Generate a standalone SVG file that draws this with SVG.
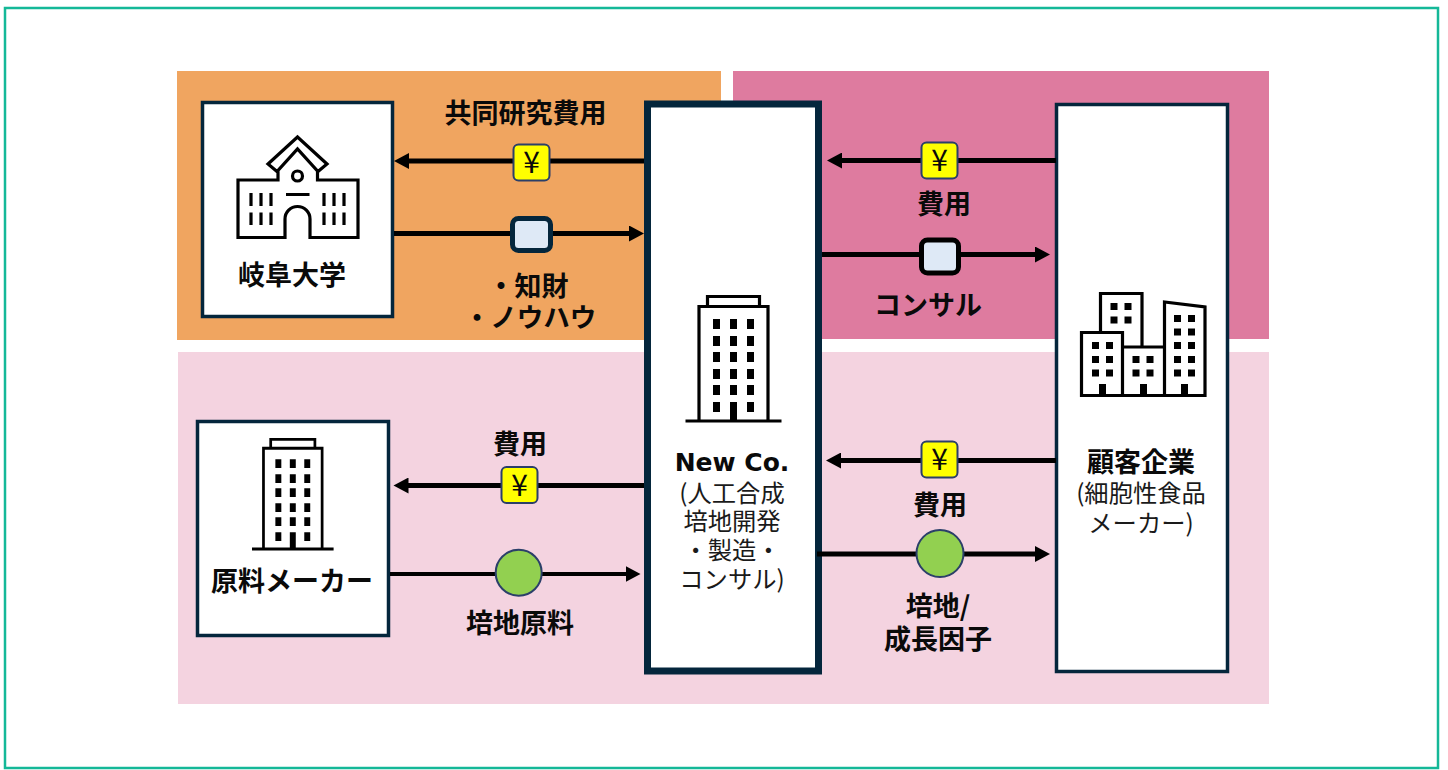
<svg xmlns="http://www.w3.org/2000/svg" width="1448" height="770" viewBox="0 0 1448 770">
<style>
text{font-family:"Noto Sans CJK JP","Liberation Sans",sans-serif;text-anchor:middle;fill:#0a0a0a}
.b{font-size:27px;font-weight:700}
.r{font-size:24.300px;font-weight:400;fill:#1a1a1a}
.box{fill:#fff;stroke:#04263c;stroke-width:3.5}
.ink{fill:none;stroke:#000;stroke-width:3.2}
.fillk{fill:#000}
.wire{stroke:#000;stroke-width:5;fill:none}
.yen{fill:#ffff00;stroke:#2b3f69;stroke-width:2}
.sq{fill:#dee9f6;stroke-width:5}
.dot{fill:#92d050;stroke:#2b3f69;stroke-width:2}
.y{font-size:30px;font-weight:400}
</style>
<defs>
<marker id="ah" markerUnits="userSpaceOnUse" markerWidth="16" markerHeight="16" refX="3" refY="8" orient="auto"><path d="M0 0L15 8L0 16Z" fill="#000"/></marker>
<g id="tower">
<path class="ink" d="M-48 0H48M-34.500 0V-114.500H34.500V0M-26 -114.500V-124.500H26V-114.500"/>
<path class="fillk" d="M-20.500 -102h7v10h-7zM-3.500 -102h7v10h-7zM13.500 -102h7v10h-7zM-20.500 -85h7v10h-7zM-3.500 -85h7v10h-7zM13.500 -85h7v10h-7zM-20.500 -69h7v10h-7zM-3.500 -69h7v10h-7zM13.500 -69h7v10h-7zM-20.500 -52h7v10h-7zM-3.500 -52h7v10h-7zM13.500 -52h7v10h-7zM-20.500 -36h7v10h-7zM-3.500 -36h7v10h-7zM13.500 -36h7v10h-7zM-20.500 -19h7v10h-7zM13.500 -19h7v10h-7zM-3.500 -19h7V0h-7z"/>
</g>
</defs>
<rect width="1448" height="770" fill="#fff"/>
<rect x="5" y="8" width="1433" height="760" fill="none" stroke="#14b898" stroke-width="2.500"/>
<g id="panels">
<rect x="177" y="71" width="544" height="269" fill="#f0a560"/>
<rect x="733" y="71" width="536" height="268" fill="#de7b9f"/>
<rect x="178" y="352" width="1091" height="352" fill="#f4d3e0"/>
</g>
<g id="university">
<rect class="box" x="202.500" y="102.500" width="190" height="214"/>
<path class="ink" d="M278 169V180H238V237.500H285V219A12.500 12.500 0 0 1 310 219V237.500H358V180H317.500V169M297.500 137L327 164L318 171.500L297.500 149L277 171.500L268 164Z"/>
<circle class="ink" cx="297.500" cy="176" r="5"/>
<path class="ink" d="M286 194.500H309.500M251 193V206M261 193V206M271 193V206M251 212.500V225M261 212.500V225M271 212.500V225M324 193V206M334 193V206M344 193V206M324 212.500V225M334 212.500V225M344 212.500V225"/>
<text class="b" x="292" y="284.500">岐阜大学</text>
</g>
<g id="newco">
<rect x="647.500" y="104" width="171" height="567" fill="#fff" stroke="#04263c" stroke-width="7"/>
<use href="#tower" x="733.500" y="421"/>
<text x="732" y="471" style="font-family:'DejaVu Sans',sans-serif;font-size:25px;font-weight:700">New Co.</text>
<text class="r" x="732" y="501.500">(人工合成</text>
<text class="r" x="732" y="530">培地開発</text>
<text class="r" x="732" y="559">・製造・</text>
<text class="r" x="732" y="588">コンサル)</text>
</g>
<g id="customer">
<rect class="box" x="1056.500" y="104.500" width="171" height="567"/>
<path class="ink" d="M1100.500 331V293.500H1142V346M1081.500 395.500V332.500H1122.500V395.500ZM1122.500 347H1164M1164.500 395.500H1081.500M1164.500 395.500V302L1205 307V395.500H1164.500"/>
<path class="fillk" d="M1110.500 303h7v7h-7zM1124.500 303h7v7h-7zM1110.500 316.500h7v7h-7zM1124.500 316.500h7v7h-7zM1092 342h7v7h-7zM1106 342h7v7h-7zM1092 356h7v7h-7zM1106 356h7v7h-7zM1092 369.500h7v7h-7zM1106 369.500h7v7h-7zM1132.500 356h7v7h-7zM1146.500 356h7v7h-7zM1132.500 369.500h7v7h-7zM1146.500 369.500h7v7h-7zM1174 315h7v7h-7zM1188 315h7v7h-7zM1174 328.500h7v7h-7zM1188 328.500h7v7h-7zM1174 342h7v7h-7zM1188 342h7v7h-7zM1174 356h7v7h-7zM1188 356h7v7h-7zM1174 369.500h7v7h-7zM1188 369.500h7v7h-7zM1099 384h7v12h-7zM1140 384h7v12h-7zM1181 384h7v12h-7z"/>
<text class="b" x="1141" y="471.500">顧客企業</text>
<text class="r" x="1141" y="501.500">(細胞性食品</text>
<text class="r" x="1141" y="531.500">メーカー)</text>
</g>
<g id="supplier">
<rect class="box" x="197.500" y="421.500" width="191" height="214"/>
<use href="#tower" transform="translate(292.800 549) scale(.85 .88)"/>
<text class="b" x="292" y="590.500">原料メーカー</text>
</g>
<g id="connectors">
<path class="wire" marker-end="url(#ah)" d="M644 161H406"/>
<path class="wire" marker-end="url(#ah)" d="M394 233.500H632"/>
<path class="wire" marker-end="url(#ah)" d="M1056 160.500H839"/>
<path class="wire" marker-end="url(#ah)" d="M822 254.500H1038"/>
<path class="wire" marker-end="url(#ah)" d="M644 485.500H405.500"/>
<path class="wire" style="stroke-width:4" marker-end="url(#ah)" d="M390 574H628.500"/>
<path class="wire" marker-end="url(#ah)" d="M1056 460.500H838"/>
<path class="wire" marker-end="url(#ah)" d="M817 554H1038"/>
</g>
<g id="flow-university-cost">
<rect class="yen" x="513.500" y="144.500" width="36" height="36" rx="5"/>
<text class="y" x="531.500" y="173">¥</text>
<text class="b" x="525.500" y="122.500">共同研究費用</text>
</g>
<g id="flow-university-ip">
<rect class="sq" x="512.500" y="218.500" width="38" height="32" rx="6" stroke="#04263c"/>
<text class="b" x="528" y="295.500">・知財</text>
<text class="b" x="530" y="327" style="font-size:26.500px">・ノウハウ</text>
</g>
<g id="flow-customer-cost">
<rect class="yen" x="921.500" y="142.500" width="36" height="36" rx="5"/>
<text class="y" x="939.500" y="171">¥</text>
<text class="b" x="944" y="214">費用</text>
</g>
<g id="flow-customer-consult">
<rect class="sq" x="921.500" y="240" width="37" height="33" rx="6" stroke="#000"/>
<text class="b" x="928" y="314.500">コンサル</text>
</g>
<g id="flow-supplier-cost">
<rect class="yen" x="501.500" y="467" width="36" height="36" rx="5"/>
<text class="y" x="519.500" y="495.500">¥</text>
<text class="b" x="520" y="453.500">費用</text>
</g>
<g id="flow-supplier-material">
<circle class="dot" cx="518.700" cy="572.700" r="23"/>
<text class="b" x="520" y="632.500">培地原料</text>
</g>
<g id="flow-market-cost">
<rect class="yen" x="921.500" y="441.500" width="36" height="36" rx="5"/>
<text class="y" x="939.500" y="470">¥</text>
<text class="b" x="940" y="514.500">費用</text>
</g>
<g id="flow-market-medium">
<circle class="dot" cx="940" cy="553.500" r="23.500"/>
<text class="b" x="938" y="616">培地/</text>
<text class="b" x="938" y="649">成長因子</text>
</g>
</svg>
